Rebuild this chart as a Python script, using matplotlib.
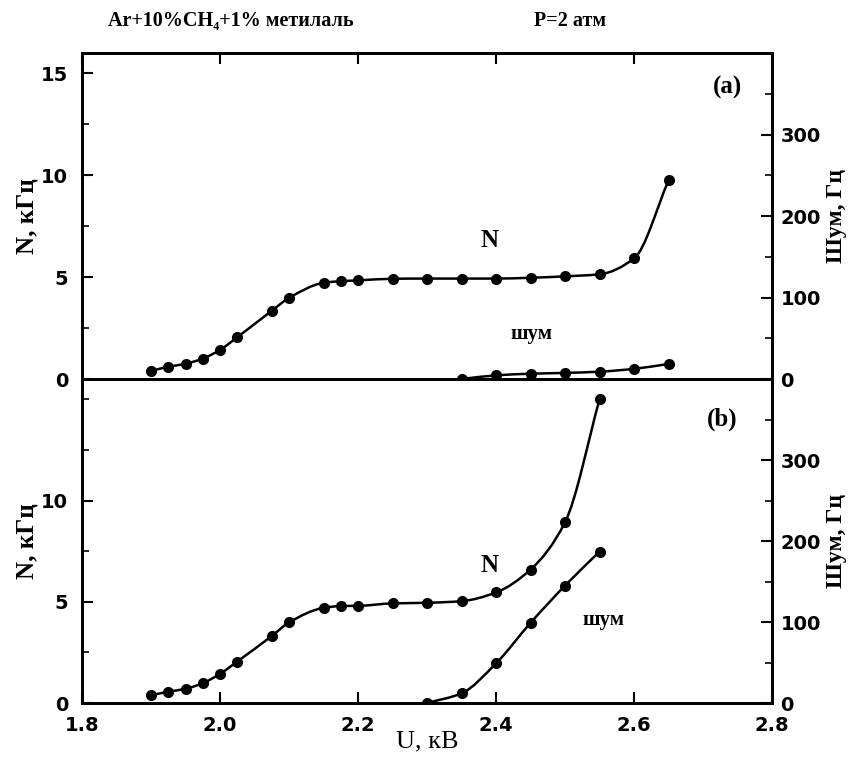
import numpy as np
import matplotlib
matplotlib.use("Agg")
import matplotlib.pyplot as plt
from matplotlib.path import Path
from matplotlib.patches import PathPatch

# panel (a)
u_a = [1.90, 1.925, 1.95, 1.975, 2.00, 2.025, 2.075, 2.10, 2.15, 2.175,
       2.20, 2.25, 2.30, 2.35, 2.40, 2.45, 2.50, 2.55, 2.60, 2.65]
n_a = [0.40, 0.60, 0.75, 1.00, 1.43, 2.05, 3.35, 3.98, 4.72, 4.80,
       4.84, 4.92, 4.93, 4.93, 4.93, 4.97, 5.04, 5.14, 5.92, 9.75]
u_noise_a = [2.35, 2.40, 2.45, 2.50, 2.55, 2.60, 2.65]
noise_a = [0, 4.5, 6.5, 7.5, 9, 12.5, 18.5]

# panel (b)
u_b = [1.90, 1.925, 1.95, 1.975, 2.00, 2.025, 2.075, 2.10, 2.15, 2.175,
       2.20, 2.25, 2.30, 2.35, 2.40, 2.45, 2.50, 2.55]
n_b = [0.38, 0.56, 0.70, 0.98, 1.44, 2.05, 3.31, 3.98, 4.70, 4.79,
       4.80, 4.92, 4.95, 5.03, 5.46, 6.59, 8.93, 15.0]
u_noise_b = [2.30, 2.35, 2.40, 2.45, 2.50, 2.55]
noise_b = [0, 12, 49, 99, 145, 187]

SERIF = ["Liberation Serif", "DejaVu Serif"]
TICKFONT = dict(family="DejaVu Sans", weight="bold", size=14)


def smooth_curve(ax, x, y, **kw):
    # monotone cubic (Fritsch-Carlson) drawn as bezier segments
    x = np.asarray(x, float)
    y = np.asarray(y, float)
    h = np.diff(x)
    d = np.diff(y) / h
    m = np.zeros_like(y)
    m[0], m[-1] = d[0], d[-1]
    for i in range(1, len(y) - 1):
        if d[i - 1] * d[i] <= 0:
            m[i] = 0
        else:
            w1 = 2 * h[i] + h[i - 1]
            w2 = h[i] + 2 * h[i - 1]
            m[i] = (w1 + w2) / (w1 / d[i - 1] + w2 / d[i])
    verts = [(x[0], y[0])]
    codes = [Path.MOVETO]
    for i in range(len(x) - 1):
        verts += [(x[i] + h[i] / 3, y[i] + m[i] * h[i] / 3),
                  (x[i + 1] - h[i] / 3, y[i + 1] - m[i + 1] * h[i] / 3),
                  (x[i + 1], y[i + 1])]
        codes += [Path.CURVE4] * 3
    ax.add_patch(PathPatch(Path(verts, codes), fill=False, **kw))


fig = plt.figure(figsize=(8.49, 7.66), dpi=100)
ax_a = fig.add_axes([0.0966, 0.5052, 0.8128, 0.4256])
ax_b = fig.add_axes([0.0966, 0.0822, 0.8128, 0.4230], sharex=ax_a)

panels = [
    (ax_a, u_a, n_a, u_noise_a, noise_a, "(a)", (2.736, 14.3), (2.452, 2.2), [0, 5, 10, 15]),
    (ax_b, u_b, n_b, u_noise_b, noise_b, "(b)", (2.728, 14.0), (2.556, 4.1), [0, 5, 10]),
]

for ax, u, n, un, nz, tag, tag_xy, shum_xy, yt in panels:
    ax.set_xlim(1.8, 2.8)
    ax.set_ylim(0, 16)
    ax2 = ax.twinx()
    ax2.set_ylim(0, 400)

    smooth_curve(ax, u, n, lw=1.8, edgecolor="black", zorder=3)
    ax.plot(u, n, "o", color="black", ms=7, zorder=4)
    smooth_curve(ax2, un, nz, lw=1.8, edgecolor="black", zorder=3)
    ax2.plot(un, nz, "o", color="black", ms=7, zorder=4)

    ax.text(*tag_xy, tag, ha="center", va="center", fontsize=18,
            family=SERIF, weight="bold")
    ax.text(2.39, 6.8, "N", ha="center", va="center", fontsize=18,
            family=SERIF, weight="bold")
    ax.text(*shum_xy, "шум", ha="center", va="center", fontsize=15,
            family=SERIF, weight="bold")

    ax.set_yticks(yt)
    ax.yaxis.set_minor_locator(matplotlib.ticker.MultipleLocator(2.5))
    ax2.set_yticks([0, 100, 200, 300])
    ax2.yaxis.set_minor_locator(matplotlib.ticker.MultipleLocator(50))
    ax.set_xticks([1.8, 2.0, 2.2, 2.4, 2.6, 2.8])

    ax.tick_params(axis="y", which="major", direction="in", length=8, width=1.5, pad=10)
    ax.tick_params(axis="x", which="major", direction="in", length=8, width=1.5, pad=9)
    ax.tick_params(axis="both", which="minor", direction="in", length=5, width=1.2)
    ax2.tick_params(axis="y", which="major", direction="in", length=8, width=1.5, pad=6)
    ax2.tick_params(axis="y", which="minor", direction="in", length=5, width=1.2)
    for lab in ax.get_yticklabels() + ax2.get_yticklabels():
        lab.set_fontproperties(matplotlib.font_manager.FontProperties(**TICKFONT))

    ax.set_ylabel("N, кГц", family=SERIF, weight="bold", fontsize=18, labelpad=2)
    ax2.set_ylabel("Шум, Гц", family=SERIF, weight="bold", fontsize=17, labelpad=4)

    for a in (ax, ax2):
        for s in a.spines.values():
            s.set_linewidth(2)

ax_a.tick_params(axis="x", top=True, bottom=False, labelbottom=False)
ax_b.tick_params(axis="x", top=False, bottom=True, labelbottom=True)
for lab in ax_b.get_xticklabels():
    lab.set_fontproperties(matplotlib.font_manager.FontProperties(**TICKFONT))
ax_b.set_xlabel("U, кВ", family=SERIF, fontsize=19, labelpad=-3)

fig.text(0.272, 0.972, "Ar+10%CH₄+1% метилаль", ha="center", va="center",
         fontsize=14.5, family=SERIF, weight="bold")
fig.text(0.672, 0.972, "P=2 атм", ha="center", va="center",
         fontsize=14.5, family=SERIF, weight="bold")

fig.savefig("out.png", dpi=100)
